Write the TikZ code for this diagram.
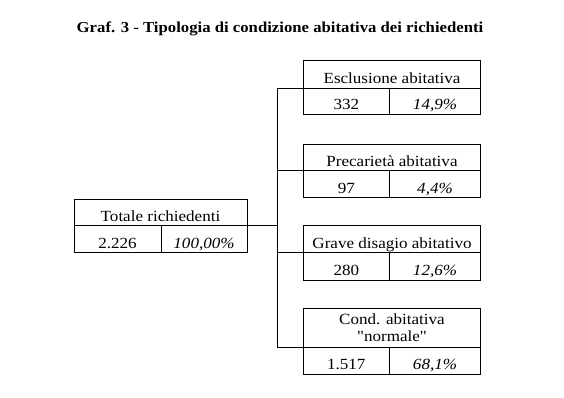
\documentclass[tikz,border=0pt]{standalone}
\usepackage{fontspec}
\setmainfont{Liberation Serif}[FakeStretch=1.1, Ligatures=TeXOff]
\begin{document}
\begin{tikzpicture}[x=1pt,y=-1pt,
  every node/.style={inner sep=0pt, outer sep=0pt},
  cell/.style={draw=black, line width=0.8pt, anchor=north west, text depth=0pt,
    font=\fontsize{15.5}{17}\selectfont, text=black},
  pct/.style={cell, font=\fontsize{15.5}{17}\selectfont\itshape},
  link/.style={draw=black, line width=0.8pt},
  titlestyle/.style={font=\fontsize{15.2}{18}\selectfont\bfseries, anchor=base}
]
\useasboundingbox (0,0) rectangle (564,398);
\node[titlestyle] (title) at (280,32.3) {Graf. 3 - Tipologia di condizione abitativa dei richiedenti};
\coordinate (spine) at (277,0);
% left box
\node[cell, minimum width=173pt, minimum height=26.7pt, text height=17.7pt] (h0) at (74,199) {Totale richiedenti};
\node[cell, minimum width=87pt, minimum height=27pt, text height=18pt] (v0) at (74,225.7) {2.226};
\node[pct, minimum width=86pt, minimum height=27pt, text height=18pt] (p0) at (161,225.7) {100,00\%};
% box 1
\node[cell, minimum width=177.4pt, minimum height=27.6pt, text height=18.6pt] (h1) at (303.3,60.7) {Esclusione abitativa};
\node[cell, minimum width=86pt, minimum height=26pt, text height=17pt] (v1) at (303.3,88.3) {332};
\node[pct, minimum width=91.4pt, minimum height=26pt, text height=17pt] (p1) at (389.3,88.3) {14,9\%};
% box 2
\node[cell, minimum width=177.4pt, minimum height=26.5pt, text height=17.5pt] (h2) at (303.3,144) {Precarietà abitativa};
\node[cell, minimum width=86pt, minimum height=27.2pt, text height=18.2pt] (v2) at (303.3,170.5) {97};
\node[pct, minimum width=91.4pt, minimum height=27.2pt, text height=18.2pt] (p2) at (389.3,170.5) {4,4\%};
% box 3
\node[cell, minimum width=177.4pt, minimum height=27.7pt, text height=18.7pt] (h3) at (303.3,225) {Grave disagio abitativo};
\node[cell, minimum width=86pt, minimum height=27.3pt, text height=18.3pt] (v3) at (303.3,252.7) {280};
\node[pct, minimum width=91.4pt, minimum height=27.3pt, text height=18.3pt] (p3) at (389.3,252.7) {12,6\%};
% box 4
\node[cell, minimum width=177.4pt, minimum height=38.7pt] (h4) at (303.3,308.3) {};
\node[font=\fontsize{15.5}{17}\selectfont, text=black, anchor=base] (h4a) at (392,324) {Cond. abitativa};
\node[font=\fontsize{15.5}{17}\selectfont, text=black, anchor=base] (h4b) at (392,341) {"normale"};
\node[cell, minimum width=86pt, minimum height=27.3pt, text height=18.3pt] (v4) at (303.3,347) {1.517};
\node[pct, minimum width=91.4pt, minimum height=27.3pt, text height=18.3pt] (p4) at (389.3,347) {68,1\%};
% connectors
\draw[link] (h0.south east) -- (h0.south east -| spine);
\draw[link] (h1.south west -| spine) -- (h4.south west -| spine);
\draw[link] (h1.south west) -- (h1.south west -| spine);
\draw[link] (h2.south west) -- (h2.south west -| spine);
\draw[link] (h3.south west) -- (h3.south west -| spine);
\draw[link] (h4.south west) -- (h4.south west -| spine);
\end{tikzpicture}
\end{document}
